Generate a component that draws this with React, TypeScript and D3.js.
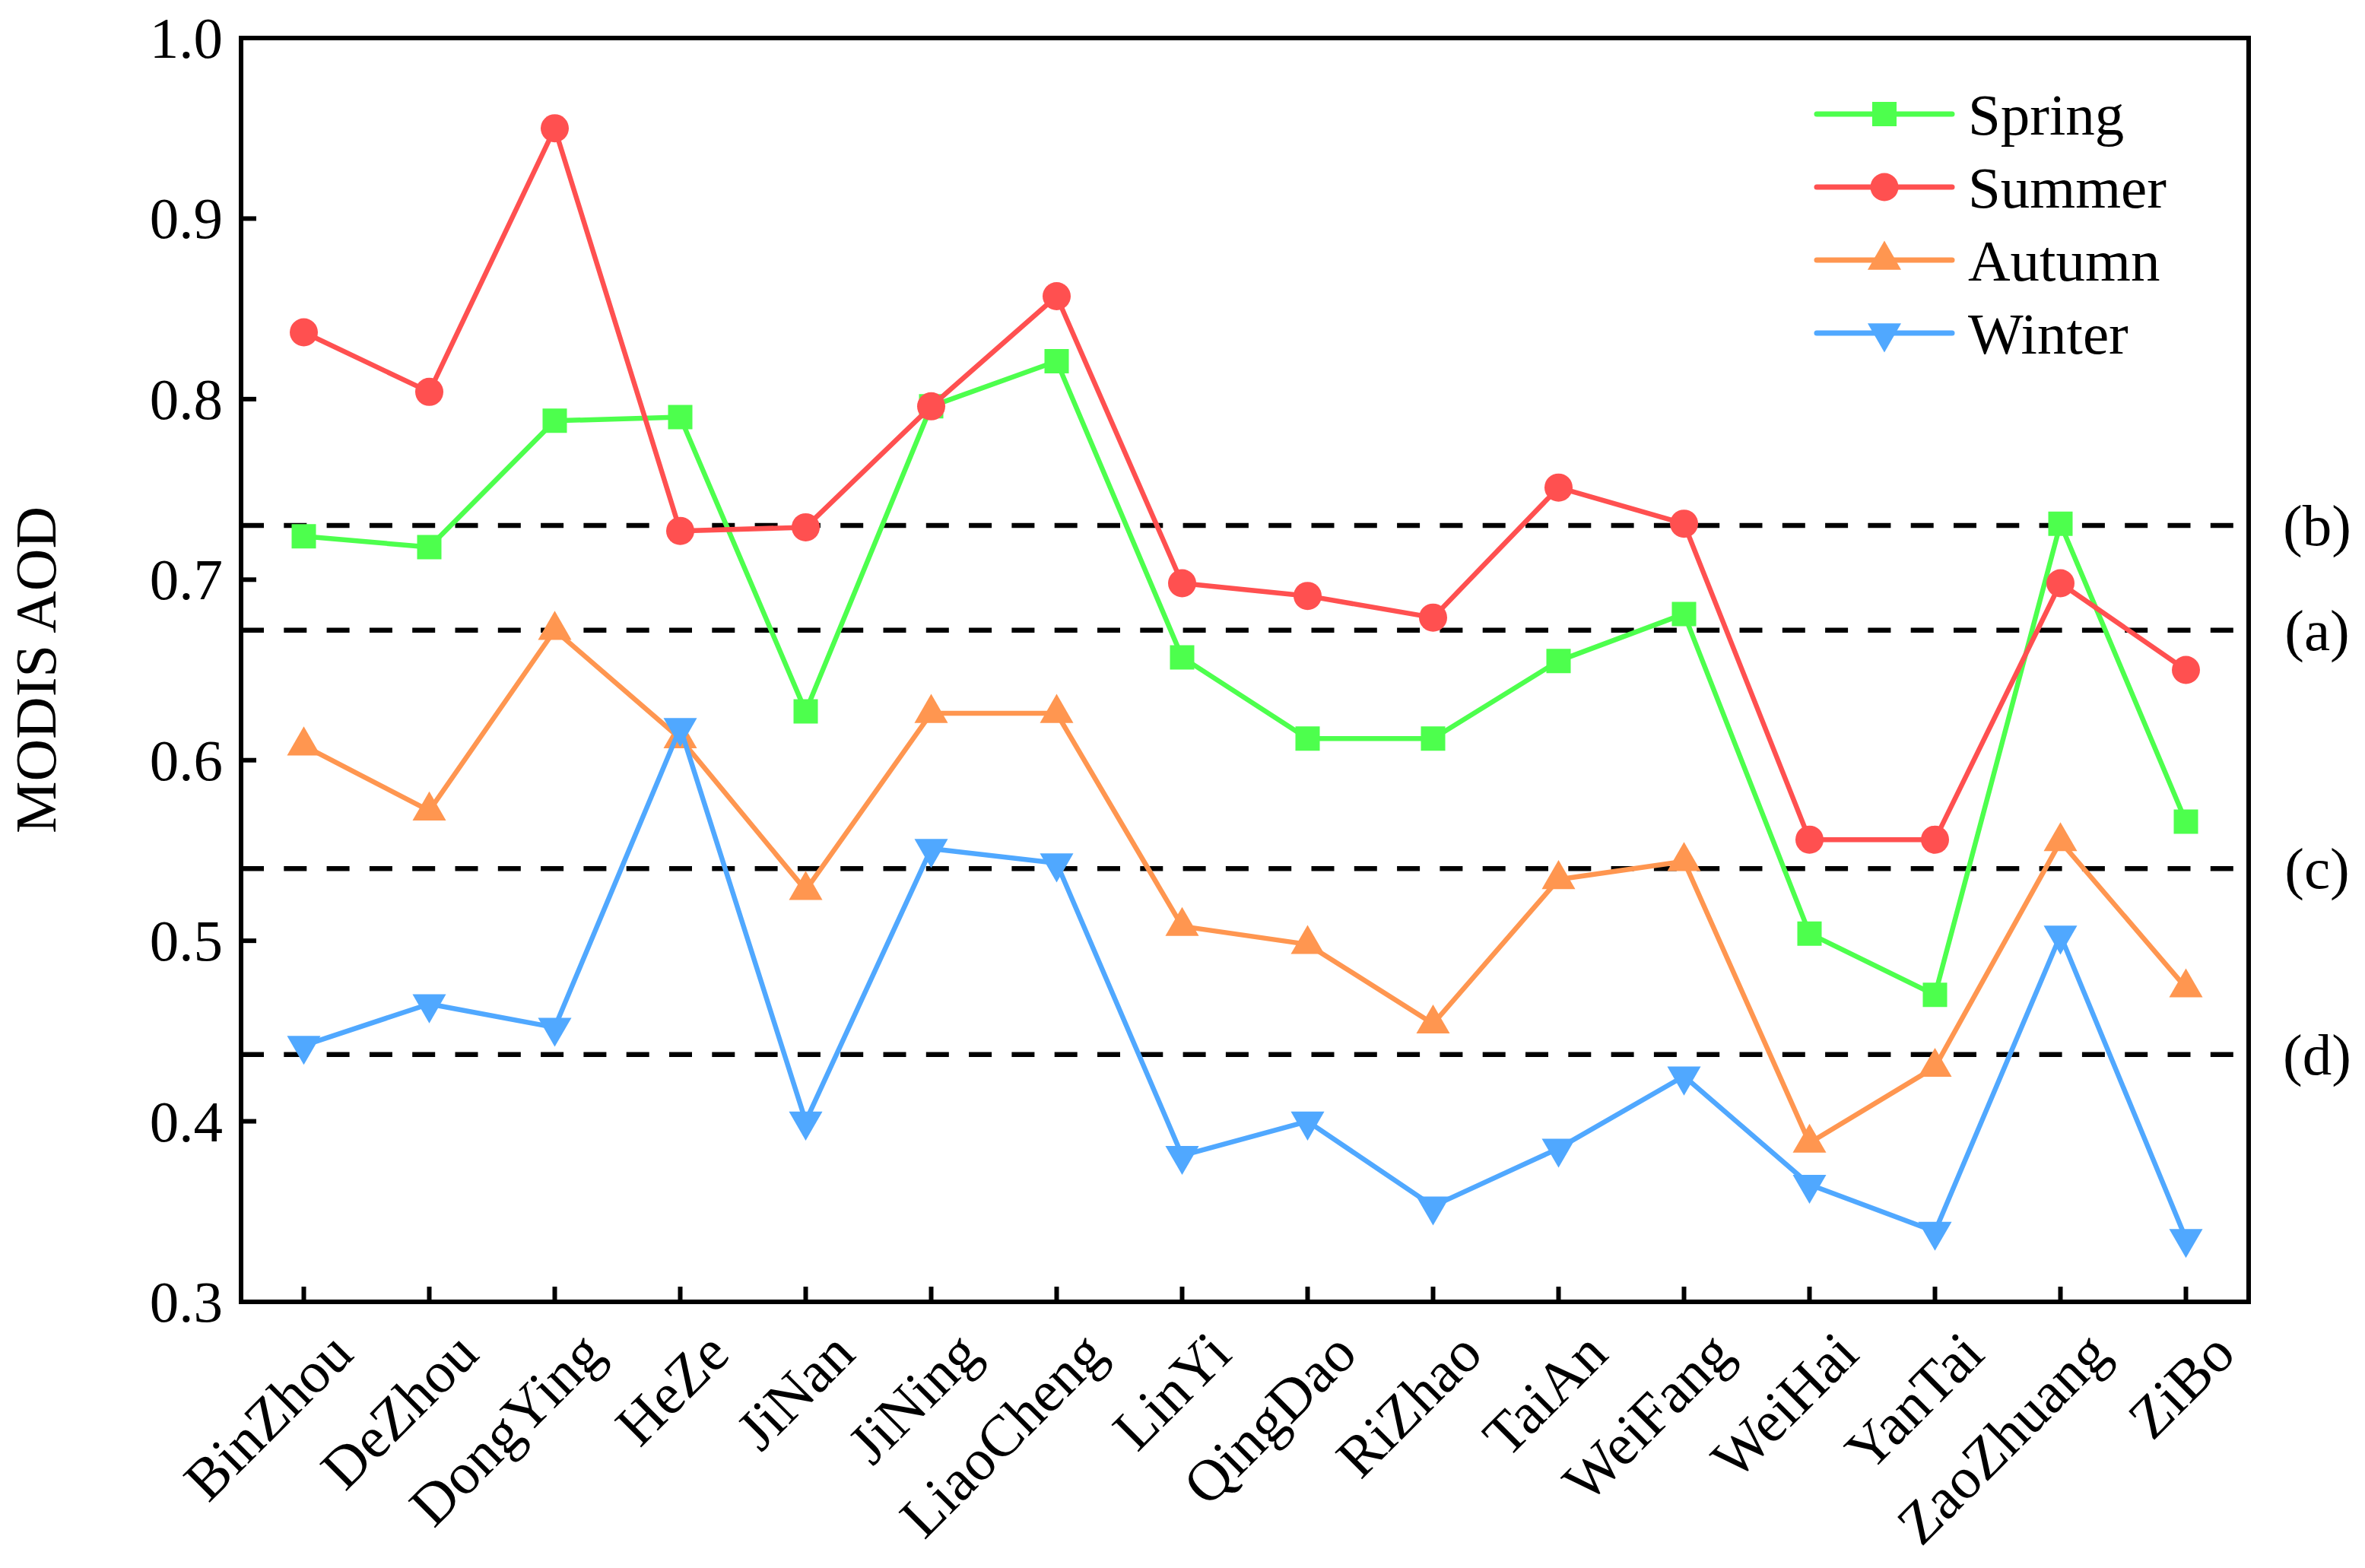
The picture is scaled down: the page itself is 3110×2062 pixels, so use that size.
import * as d3 from "d3";
import React from "react";

const cities = [
  "BinZhou", "DeZhou", "DongYing", "HeZe", "JiNan", "JiNing", "LiaoCheng", "LinYi",
  "QingDao", "RiZhao", "TaiAn", "WeiFang", "WeiHai", "YanTai", "ZaoZhuang", "ZiBo",
];

const spring = [0.724, 0.718, 0.788, 0.79, 0.627, 0.796, 0.821, 0.657, 0.612, 0.612, 0.655, 0.681, 0.504, 0.47, 0.731, 0.566];
const summer = [0.837, 0.804, 0.95, 0.727, 0.729, 0.796, 0.857, 0.698, 0.691, 0.679, 0.751, 0.731, 0.556, 0.556, 0.698, 0.65];
const autumn = [0.608, 0.572, 0.672, 0.612, 0.528, 0.626, 0.626, 0.508, 0.498, 0.454, 0.534, 0.544, 0.388, 0.43, 0.555, 0.474];
const winter = [0.442, 0.465, 0.452, 0.618, 0.4, 0.551, 0.543, 0.381, 0.4, 0.353, 0.385, 0.425, 0.365, 0.339, 0.503, 0.335];

const refLabels = ["(b)", "(a)", "(c)", "(d)"];
const refValues = [0.73, 0.672, 0.54, 0.437];

const yTicks = [0.3, 0.4, 0.5, 0.6, 0.7, 0.8, 0.9, 1.0];

const series = [
  { name: "Spring", values: spring, color: "#4dff4d", symbol: d3.symbolSquare, size: 1024, rot: 0 },
  { name: "Summer", values: summer, color: "#ff5050", symbol: d3.symbolCircle, size: 1075, rot: 0 },
  { name: "Autumn", values: autumn, color: "#ff9650", symbol: d3.symbolTriangle, size: 840, rot: 0 },
  { name: "Winter", values: winter, color: "#50a8ff", symbol: d3.symbolTriangle, size: 840, rot: 180 },
];

const W = 3110;
const H = 2062;
const left = 317;
const right = 2957;
const top = 50;
const bottom = 1712;
const fs = 77;
const font = "Liberation Serif, DejaVu Serif, Times New Roman, serif";

export default function App() {
  const x = d3.scalePoint<string>().domain(cities).range([left, right]).padding(0.5);
  const y = d3.scaleLinear().domain([0.3, 1.0]).range([bottom, top]);
  const fmt = d3.format(".1f");

  const line = d3
    .line<number>()
    .x((_, i) => x(cities[i]) as number)
    .y((d) => y(d));

  return (
    <svg
      width={W}
      height={H}
      style={{ position: "absolute", left: 0, top: 0, background: "#fff", fontFamily: font }}
    >
      <rect width={W} height={H} fill="#fff" />

      {/* reference lines */}
      {refValues.map((v, i) => (
        <g key={refLabels[i]}>
          <line
            x1={left}
            x2={right}
            y1={y(v)}
            y2={y(v)}
            stroke="#000"
            strokeWidth={6.5}
            strokeDasharray="30 26.3"
          />
          <text x={3047} y={y(v)} fontSize={fs} textAnchor="middle" dominantBaseline="central">
            {refLabels[i]}
          </text>
        </g>
      ))}

      {/* series */}
      {series.map((s) => (
        <g key={s.name}>
          <path d={line(s.values) as string} fill="none" stroke={s.color} strokeWidth={6.5} strokeLinejoin="round" />
          {s.values.map((v, i) => (
            <path
              key={i}
              d={d3.symbol(s.symbol, s.size)() as string}
              transform={`translate(${x(cities[i])},${y(v)}) rotate(${s.rot})`}
              fill={s.color}
            />
          ))}
        </g>
      ))}

      {/* frame */}
      <rect x={left} y={top} width={right - left} height={bottom - top} fill="none" stroke="#000" strokeWidth={6} />

      {/* y axis */}
      {yTicks.map((t) => (
        <g key={t}>
          <line x1={left} x2={left + 20} y1={y(t)} y2={y(t)} stroke="#000" strokeWidth={6} />
          <text x={left - 24} y={y(t)} fontSize={fs} textAnchor="end" dominantBaseline="central">
            {fmt(t)}
          </text>
        </g>
      ))}
      <text
        transform={`translate(47,${(top + bottom) / 2}) rotate(-90)`}
        fontSize={fs}
        textAnchor="middle"
        dominantBaseline="central"
      >
        MODIS AOD
      </text>

      {/* x axis */}
      {cities.map((c) => (
        <g key={c}>
          <line x1={x(c)} x2={x(c)} y1={bottom} y2={bottom - 20} stroke="#000" strokeWidth={6} />
          <text
            transform={`translate(${(x(c) as number) + 68},${bottom + 72}) rotate(-45)`}
            fontSize={fs}
            textAnchor="end"
          >
            {c}
          </text>
        </g>
      ))}

      {/* legend */}
      {series.map((s, i) => {
        const ly = 150 + i * 96;
        return (
          <g key={s.name}>
            <line x1={2389} x2={2567} y1={ly} y2={ly} stroke={s.color} strokeWidth={7} strokeLinecap="round" />
            <path
              d={d3.symbol(s.symbol, s.size)() as string}
              transform={`translate(2478,${ly}) rotate(${s.rot})`}
              fill={s.color}
            />
            <text x={2588} y={ly + 27} fontSize={fs}>
              {s.name}
            </text>
          </g>
        );
      })}
    </svg>
  );
}
